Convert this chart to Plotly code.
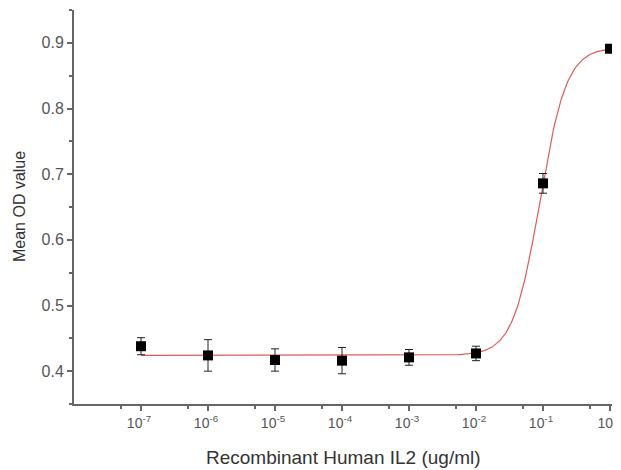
import numpy as np
import plotly.graph_objects as go

# Data
conc = [1e-7, 1e-6, 1e-5, 1e-4, 1e-3, 1e-2, 1e-1, 1e0]
mean_od = [0.438, 0.424, 0.417, 0.416, 0.421, 0.427, 0.686, 0.891]
err_od = [0.013, 0.024, 0.017, 0.020, 0.012, 0.011, 0.015, 0.004]

# Logistic (4PL) fit parameters estimated from the drawn curve
fit_bottom = 0.424
fit_top = 0.893
fit_ec50 = 0.0897
fit_hill = 2.17

x_title = "Recombinant Human IL2 (ug/ml)"
y_title = "Mean OD value"
x_tick_vals = [1e-7, 1e-6, 1e-5, 1e-4, 1e-3, 1e-2, 1e-1, 1e0]
x_tick_text = ["10<sup>-7</sup>", "10<sup>-6</sup>", "10<sup>-5</sup>", "10<sup>-4</sup>",
               "10<sup>-3</sup>", "10<sup>-2</sup>", "10<sup>-1</sup>", "10<sup>0</sup>"]
x_minor_vals = [5e-8, 5e-7, 5e-6, 5e-5, 5e-4, 5e-3, 5e-2, 5e-1]
y_tick_vals = [0.4, 0.5, 0.6, 0.7, 0.8, 0.9]
y_tick_text = ["0.4", "0.5", "0.6", "0.7", "0.8", "0.9"]

xf = np.logspace(-7, 0, 400)
yf = fit_top + (fit_bottom - fit_top) / (1 + (xf / fit_ec50) ** fit_hill)

fig = go.Figure()
fig.add_trace(go.Scatter(x=xf, y=yf, mode="lines",
                         line=dict(color="#e05a5a", width=1.2), showlegend=False))
fig.add_trace(go.Scatter(x=conc, y=mean_od, mode="markers",
                         marker=dict(symbol="square", size=10, color="black"),
                         error_y=dict(type="data", array=err_od, color="#222", thickness=1, width=4),
                         showlegend=False))

axis_col = "#666"
fig.update_layout(
    width=613, height=462,
    margin=dict(l=66, r=9, t=2, b=66),
    paper_bgcolor="white", plot_bgcolor="white",
    font=dict(family="Liberation Sans, Arial, sans-serif", color="#444"),
    xaxis=dict(type="log", range=[-8, 0.03], showgrid=False, zeroline=False,
               automargin=False, ticklabeloverflow="allow", ticklabelshift=-2,
               showline=True, linecolor=axis_col, linewidth=2,
               ticks="outside", ticklen=5, tickwidth=1.5, tickcolor=axis_col,
               tickvals=x_tick_vals, ticktext=x_tick_text,
               tickfont=dict(size=14, color="#555"),
               minor=dict(tickvals=x_minor_vals, ticks="outside", ticklen=3,
                          tickcolor=axis_col, tickwidth=1.5)),
    yaxis=dict(range=[0.35, 0.95], showgrid=False, zeroline=False,
               automargin=False, ticklabeloverflow="allow",
               showline=True, linecolor=axis_col, linewidth=2,
               ticks="outside", ticklen=5, tickwidth=1.5, tickcolor=axis_col,
               tickvals=y_tick_vals, ticktext=y_tick_text,
               tickfont=dict(size=16, color="#555"),
               minor=dict(dtick=0.05, tick0=0.35, ticks="outside", ticklen=3,
                          tickcolor=axis_col, tickwidth=1.5)),
    annotations=[
        dict(text=x_title, xref="paper", yref="paper", x=0.5, y=0,
             xanchor="center", yanchor="middle", yshift=-53, showarrow=False,
             font=dict(size=19, color="#333")),
        dict(text=y_title, xref="paper", yref="paper", x=0, y=0.5,
             xanchor="center", yanchor="middle", xshift=-55, textangle=-90,
             showarrow=False, font=dict(size=16, color="#333")),
    ],
)

fig.write_html("out.html")
